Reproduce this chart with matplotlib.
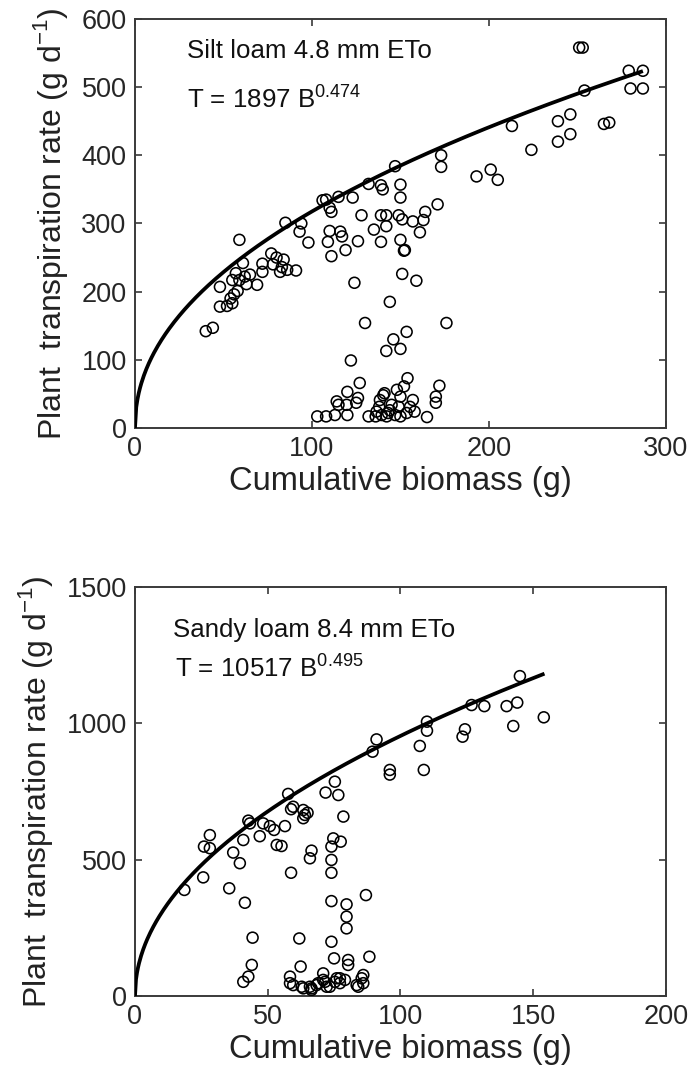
import numpy as np
import matplotlib
matplotlib.use("Agg")
import matplotlib.pyplot as plt

plt.rcParams['font.family'] = ['Liberation Sans', 'DejaVu Sans']
plt.rcParams['mathtext.fontset'] = 'custom'
plt.rcParams['mathtext.rm'] = 'Liberation Sans'

# ---------------- Silt loam (top panel) ----------------
silt_B = [40, 44, 48, 52, 55, 48, 54, 56, 58, 55, 59, 62, 63, 61, 59, 69, 72, 72, 77, 80,
          84, 78, 82, 86, 91, 83, 57, 85, 94, 93, 98, 106, 65,
          108, 110, 111, 115, 123, 132, 139, 140, 150, 150, 147, 128, 139, 142, 149, 151,
          157, 164, 163, 161, 171, 173, 173, 110, 116, 117, 109, 111, 119, 126, 135, 142,
          139, 150, 152, 151, 159, 124,
          144, 130, 176, 146, 153.5, 142, 150, 122,
          103, 108, 113, 114, 120, 120, 127, 125, 126, 132, 136, 138, 141, 148, 150, 152,
          154, 157, 158, 165, 170, 170, 172,
          136.5, 139.4, 142.2, 144, 147, 149, 150, 153.5, 155.4, 138.4, 140.3, 143, 145,
          115, 119.6,
          193, 201, 205, 213, 224, 239, 246, 239, 246, 251, 253, 254, 265, 268, 279, 287,
          280, 287, 152.5]
silt_T = [142, 147, 178, 179, 183, 207, 190, 196, 201, 217, 217, 222, 211, 242, 276, 210,
          229, 241, 256, 250, 247, 240, 229, 232, 231, 236, 227, 301, 300, 288, 272, 334, 225,
          335, 323, 317, 339, 338, 358, 356, 350, 357, 338, 384, 312, 312, 312, 312, 306,
          303, 317, 305, 287, 328, 400, 383, 289, 288, 281, 273, 252, 261, 274, 291, 296,
          273, 276, 260, 226, 216, 213,
          185, 154, 154, 130, 141, 113, 116, 99,
          17, 17, 19, 39, 19, 53, 66, 37, 44, 17, 17, 31, 51, 56, 46, 61,
          73, 41, 24, 16, 46, 37, 62,
          24, 19, 17, 26, 19, 31, 17, 22, 31, 41, 48, 22, 34,
          34, 34,
          369, 379, 364, 443, 408, 450, 460, 420, 431, 558, 558, 495, 446, 448, 524, 524,
          498, 498, 261]

# ---------------- Sandy loam (bottom panel) ----------------
sandy_B = [145, 144, 140, 142.5, 154, 131.6, 126.8, 124.3, 123.4, 110, 110, 107.3, 108.8,
           96, 96, 91, 89.5,
           75.3, 71.8, 76.6, 57.7, 58.8, 59.6, 63.4, 64, 63.4, 65, 78.5, 56.5, 50.8, 52.4, 47,
           43.3, 42.7, 40.8, 28.2, 26, 28.2, 37, 39.5, 53.4, 55.2, 66.5, 65.9, 74.7, 77.5,
           74, 74, 74, 58.8, 25.7, 18.6, 35.5, 41.4, 74, 79.7, 87, 79.7, 79.7, 44.3, 61.9,
           74, 75, 88.3, 80.3, 80.3, 62.4, 44, 42.7, 40.8, 48.3,
           58.4, 58.4, 62.8, 66.5, 68.4, 70.9, 71.6, 73.4, 76, 77.2, 79.1, 84.1, 85.4, 86,
           59.6, 63.4, 65.9, 69, 70.9, 72.2, 75.3, 77.2, 83.5, 86, 66.5]
sandy_T = [1173, 1076, 1063, 990, 1022, 1063, 1067, 978, 951, 1006, 973, 917, 829,
           829, 812, 941, 896,
           786, 746, 737, 741, 685, 694, 682, 664, 652, 672, 658, 623, 623, 609, 586,
           633, 643, 572, 590, 548, 542, 526, 487, 554, 550, 533, 505, 578, 566,
           548, 499, 452, 452, 435, 389, 395, 342, 348, 336, 370, 291, 248, 214, 211,
           199, 138, 144, 132, 114, 108, 114, 71, 52, 633,
           71, 47, 34, 28, 40, 83, 52, 34, 65, 47, 59, 34, 65, 77,
           40, 28, 34, 47, 59, 34, 52, 65, 40, 47, 22]

# fitted power curves T = a * B^b (in plotted units)
silt_fit = dict(a=35.8, b=0.474, bmax=286)
sandy_fit = dict(a=97.6, b=0.495, bmax=153.6)

panels = [
    dict(B=silt_B, T=silt_T, fit=silt_fit, xlim=(0, 300), ylim=(0, 600),
         xticks=[0, 100, 200, 300], yticks=[0, 100, 200, 300, 400, 500, 600],
         label='Silt loam 4.8 mm ETo', eq='T = 1897 B$^{\\mathregular{0.474}}$',
         lab_xy=(29.5, 553), eq_xy=(29.5, 483), rect=[0.1945, 0.607, 0.765, 0.3756]),
    dict(B=sandy_B, T=sandy_T, fit=sandy_fit, xlim=(0, 200), ylim=(0, 1500),
         xticks=[0, 50, 100, 150, 200], yticks=[0, 500, 1000, 1500],
         label='Sandy loam 8.4 mm ETo', eq='T = 10517 B$^{\\mathregular{0.495}}$',
         lab_xy=(14.5, 1342), eq_xy=(15.2, 1205), rect=[0.1945, 0.0854, 0.765, 0.3756]),
]

fig = plt.figure(figsize=(6.94, 10.89), dpi=100)
spine_c = '#3a3a3a'
for p in panels:
    ax = fig.add_axes(p['rect'])
    ax.scatter(p['B'], p['T'], s=62, facecolors='none', edgecolors='black',
               linewidths=1.15, zorder=3)
    bb = np.linspace(0, p['fit']['bmax'], 400)
    ax.plot(bb, p['fit']['a'] * bb ** p['fit']['b'], color='black', lw=2.7, zorder=4)
    ax.set_xlim(*p['xlim'])
    ax.set_ylim(*p['ylim'])
    ax.set_xticks(p['xticks'])
    ax.set_yticks(p['yticks'])
    ax.tick_params(direction='in', length=5, width=1.2, colors=spine_c,
                   labelcolor='#262626', labelsize=19.5, top=True, right=True, pad=6)
    for s in ax.spines.values():
        s.set_color(spine_c)
        s.set_linewidth(1.4)
    ax.set_xlabel('Cumulative biomass (g)', fontsize=23.5, color='#222222', labelpad=3)
    ax.set_ylabel('Plant  transpiration rate (g d$^{\\mathregular{-1}}$)', fontsize=23,
                  color='#222222', labelpad=8)
    ax.text(p['lab_xy'][0], p['lab_xy'][1], p['label'], fontsize=18.6, va='center',
            ha='left', color='#111111')
    ax.text(p['eq_xy'][0], p['eq_xy'][1], p['eq'], fontsize=18.6, va='center',
            ha='left', color='#111111')

fig.savefig('out.png', dpi=100)
